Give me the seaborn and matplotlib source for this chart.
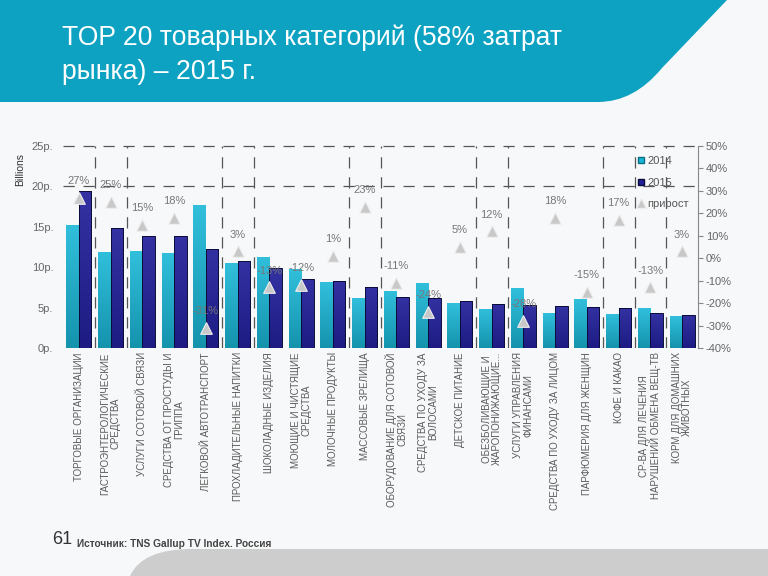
import numpy as np
import pandas as pd
import matplotlib
matplotlib.use("Agg")
import matplotlib.pyplot as plt
import seaborn as sns
from matplotlib.path import Path
from matplotlib.patches import PathPatch
from matplotlib.lines import Line2D
from matplotlib.colors import LinearSegmentedColormap, to_rgb

# ---------------- data ----------------
categories = [
    "ТОРГОВЫЕ ОРГАНИЗАЦИИ",
    "ГАСТРОЭНТЕРОЛОГИЧЕСКИЕ\nСРЕДСТВА",
    "УСЛУГИ СОТОВОЙ СВЯЗИ",
    "СРЕДСТВА ОТ ПРОСТУДЫ И\nГРИППА",
    "ЛЕГКОВОЙ АВТОТРАНСПОРТ",
    "ПРОХЛАДИТЕЛЬНЫЕ НАПИТКИ",
    "ШОКОЛАДНЫЕ ИЗДЕЛИЯ",
    "МОЮЩИЕ И ЧИСТЯЩИЕ\nСРЕДСТВА",
    "МОЛОЧНЫЕ ПРОДУКТЫ",
    "МАССОВЫЕ ЗРЕЛИЩА",
    "ОБОРУДОВАНИЕ ДЛЯ СОТОВОЙ\nСВЯЗИ",
    "СРЕДСТВА ПО УХОДУ ЗА\nВОЛОСАМИ",
    "ДЕТСКОЕ ПИТАНИЕ",
    "ОБЕЗБОЛИВАЮЩИЕ И\nЖАРОПОНИЖАЮЩИЕ...",
    "УСЛУГИ УПРАВЛЕНИЯ\nФИНАНСАМИ",
    "СРЕДСТВА ПО УХОДУ ЗА ЛИЦОМ",
    "ПАРФЮМЕРИЯ ДЛЯ ЖЕНЩИН",
    "КОФЕ И КАКАО",
    "СР-ВА ДЛЯ ЛЕЧЕНИЯ\nНАРУШЕНИЙ ОБМЕНА ВЕЩ-ТВ",
    "КОРМ ДЛЯ ДОМАШНИХ\nЖИВОТНЫХ",
]
values_2014 = [15.2, 11.9, 12.0, 11.8, 17.7, 10.5, 11.3, 9.75, 8.15, 6.15,
               7.1, 8.1, 5.55, 4.85, 7.4, 4.35, 6.05, 4.25, 4.9, 3.95]
values_2015 = [19.4, 14.9, 13.9, 13.9, 12.3, 10.8, 9.9, 8.6, 8.25, 7.6,
               6.3, 6.2, 5.85, 5.45, 5.3, 5.15, 5.1, 4.95, 4.3, 4.1]
growth_pct = [27, 25, 15, 18, -31, 3, -13, -12, 1, 23,
              -11, -24, 5, 12, -28, 18, -15, 17, -13, 3]
years = ["2014", "2015"]
left_ticks = [0, 5, 10, 15, 20, 25]
left_tick_labels = ["0р.", "5р.", "10р.", "15р.", "20р.", "25р."]
right_ticks = [-40, -30, -20, -10, 0, 10, 20, 30, 40, 50]
right_tick_labels = [f"{v}%" for v in right_ticks]
grid_boundaries = [1, 2, 5, 6, 9, 10, 13, 14, 17, 18, 19]

title_lines = ["TOP 20 товарных категорий (58% затрат", "рынка) – 2015 г."]
source_text = "Источник: TNS Gallup TV Index. Россия"

# ---------------- style ----------------
sns.set_theme(style="white")
plt.rcParams["font.family"] = ["Liberation Sans", "DejaVu Sans"]

CYAN = "#1ab8d8"
NAVY = "#22209a"
W, H = 768, 576

fig = plt.figure(figsize=(7.68, 5.76), dpi=100, facecolor="#f6f8f9")

# background (slide) layer in pixel coordinates
bg = fig.add_axes([0, 0, 1, 1])
bg.set_xlim(0, W)
bg.set_ylim(H, 0)
bg.axis("off")
bg.set_zorder(-5)

band = Path(
    [(0, 0), (727, 0), (662, 68), (634, 102), (598, 102), (0, 102), (0, 0)],
    [Path.MOVETO, Path.LINETO, Path.LINETO, Path.CURVE3, Path.CURVE3,
     Path.LINETO, Path.CLOSEPOLY],
)
bg.add_patch(PathPatch(band, facecolor="#0ea2c2", edgecolor="none"))
bottom = Path(
    [(130, 576), (142, 549), (192, 549), (768, 549), (768, 576), (130, 576)],
    [Path.MOVETO, Path.CURVE3, Path.CURVE3, Path.LINETO, Path.LINETO,
     Path.CLOSEPOLY],
)
bg.add_patch(PathPatch(bottom, facecolor="#cdcdcd", edgecolor="none"))

bg.text(62, 45, title_lines[0], color="white", fontsize=19.1, va="baseline", ha="left")
bg.text(62, 79, title_lines[1], color="white", fontsize=19.1, va="baseline", ha="left")
bg.text(52, 544, "61", color="#333333", fontsize=13, va="baseline", ha="left")
bg.text(77, 547, source_text, color="#444444", fontsize=7.3, fontweight="bold",
        va="baseline", ha="left")
bg.text(20, 170, "Billions", color="#333333", fontsize=7.5, rotation=90,
        ha="center", va="center")

# ---------------- chart ----------------
ax = fig.add_axes([63 / W, 1 - 348 / H, 635 / W, 202 / H])
ax.patch.set_alpha(0)

n = len(categories)
df = pd.DataFrame({
    "category": categories * 2,
    "year": [years[0]] * n + [years[1]] * n,
    "value": values_2014 + values_2015,
})
sns.barplot(data=df, x="category", y="value", hue="year", hue_order=years,
            palette={years[0]: CYAN, years[1]: NAVY}, width=0.78, saturation=1,
            ax=ax, legend=False, zorder=2)


def shade(c, f):
    r, g, b = to_rgb(c)
    if f >= 1:
        return tuple(min(1, x + (1 - x) * (f - 1)) for x in (r, g, b))
    return (r * f, g * f, b * f)


bars = list(ax.patches)
for idx, p in enumerate(bars):
    is_cyan = idx < n
    base = CYAN if is_cyan else NAVY
    if is_cyan:
        cmap = LinearSegmentedColormap.from_list(
            "g", [shade(base, 0.80), shade(base, 1.10)])
    else:
        cmap = LinearSegmentedColormap.from_list(
            "g", [shade(base, 0.85), shade(base, 1.08)])
    x0, y0 = p.get_x(), p.get_y()
    w, h = p.get_width(), p.get_height()
    grad = np.linspace(0, 1, 64).reshape(-1, 1)
    im = ax.imshow(grad, extent=[x0, x0 + w, y0, y0 + h], origin="lower",
                   cmap=cmap, aspect="auto", zorder=1.9, interpolation="bilinear")
    im.set_clip_path(p)
    p.set_facecolor("none")
    if is_cyan:
        p.set_edgecolor("none")
    else:
        p.set_edgecolor("#0c0c3a")
        p.set_linewidth(0.7)

# dashed gridlines
for yv in (20, 25):
    ax.axhline(yv, color="#555555", lw=0.9, ls=(0, (9, 7)), zorder=0.5, clip_on=False)
for k in grid_boundaries:
    ax.axvline(k - 0.5, color="#555555", lw=0.9, ls=(0, (9, 7)), zorder=0.5)

ax.set_xlim(-0.5, n - 0.5)
ax.set_ylim(0, 25)
ax.set_yticks(left_ticks)
ax.set_yticklabels(left_tick_labels, fontsize=8, color="#666666")
ax.set_xticks(range(n))
ax.set_xticklabels(categories, rotation=90, fontsize=7, color="#5a5a5a",
                   linespacing=1.0, ha="center", va="top")
ax.tick_params(axis="x", length=0, pad=3)
ax.tick_params(axis="y", length=0, pad=7)
ax.set_xlabel("")
ax.set_ylabel("")
for s in ax.spines.values():
    s.set_visible(False)

# secondary axis: growth
ax2 = ax.twinx()
ax2.patch.set_alpha(0)
sns.scatterplot(x=np.arange(n), y=growth_pct, ax=ax2, marker="^",
                s=70, color="#c8c8c8", edgecolor="#eeeeee", linewidth=0.8,
                zorder=5, legend=False)
for i, g in enumerate(growth_pct):
    ax2.annotate(f"{g}%", (i, g), xytext=(0, 12), textcoords="offset points",
                 ha="center", va="center", fontsize=8, color="#777777", zorder=6)
ax2.set_ylim(-40, 50)
ax2.set_yticks(right_ticks)
ax2.set_yticklabels(right_tick_labels, fontsize=8, color="#666666")
ax2.tick_params(axis="y", length=3.6, width=0.8, color="#888888", pad=2,
                direction="out")
ax2.set_xlim(-0.5, n - 0.5)
for name, s in ax2.spines.items():
    s.set_visible(name == "right")
ax2.spines["right"].set_color("#888888")
ax2.spines["right"].set_linewidth(0.8)
ax2.set_ylabel("")

handles = [
    Line2D([], [], marker="s", ls="", color=CYAN, markeredgecolor="#0a6f85",
           markersize=5),
    Line2D([], [], marker="s", ls="", color=NAVY, markeredgecolor="#0c0c3a",
           markersize=5),
    Line2D([], [], marker="^", ls="", color="#c8c8c8", markeredgecolor="#eeeeee",
           markersize=7),
]
fig.legend(handles, [years[0], years[1], "прирост"], loc="upper left",
           bbox_to_anchor=(637 / W, 1 - 156 / H), frameon=False, fontsize=8,
           labelcolor="#555555", handlelength=0.8, handletextpad=0.15,
           labelspacing=1.05, borderpad=0, borderaxespad=0)

fig.savefig("out.png", dpi=100, facecolor=fig.get_facecolor())
